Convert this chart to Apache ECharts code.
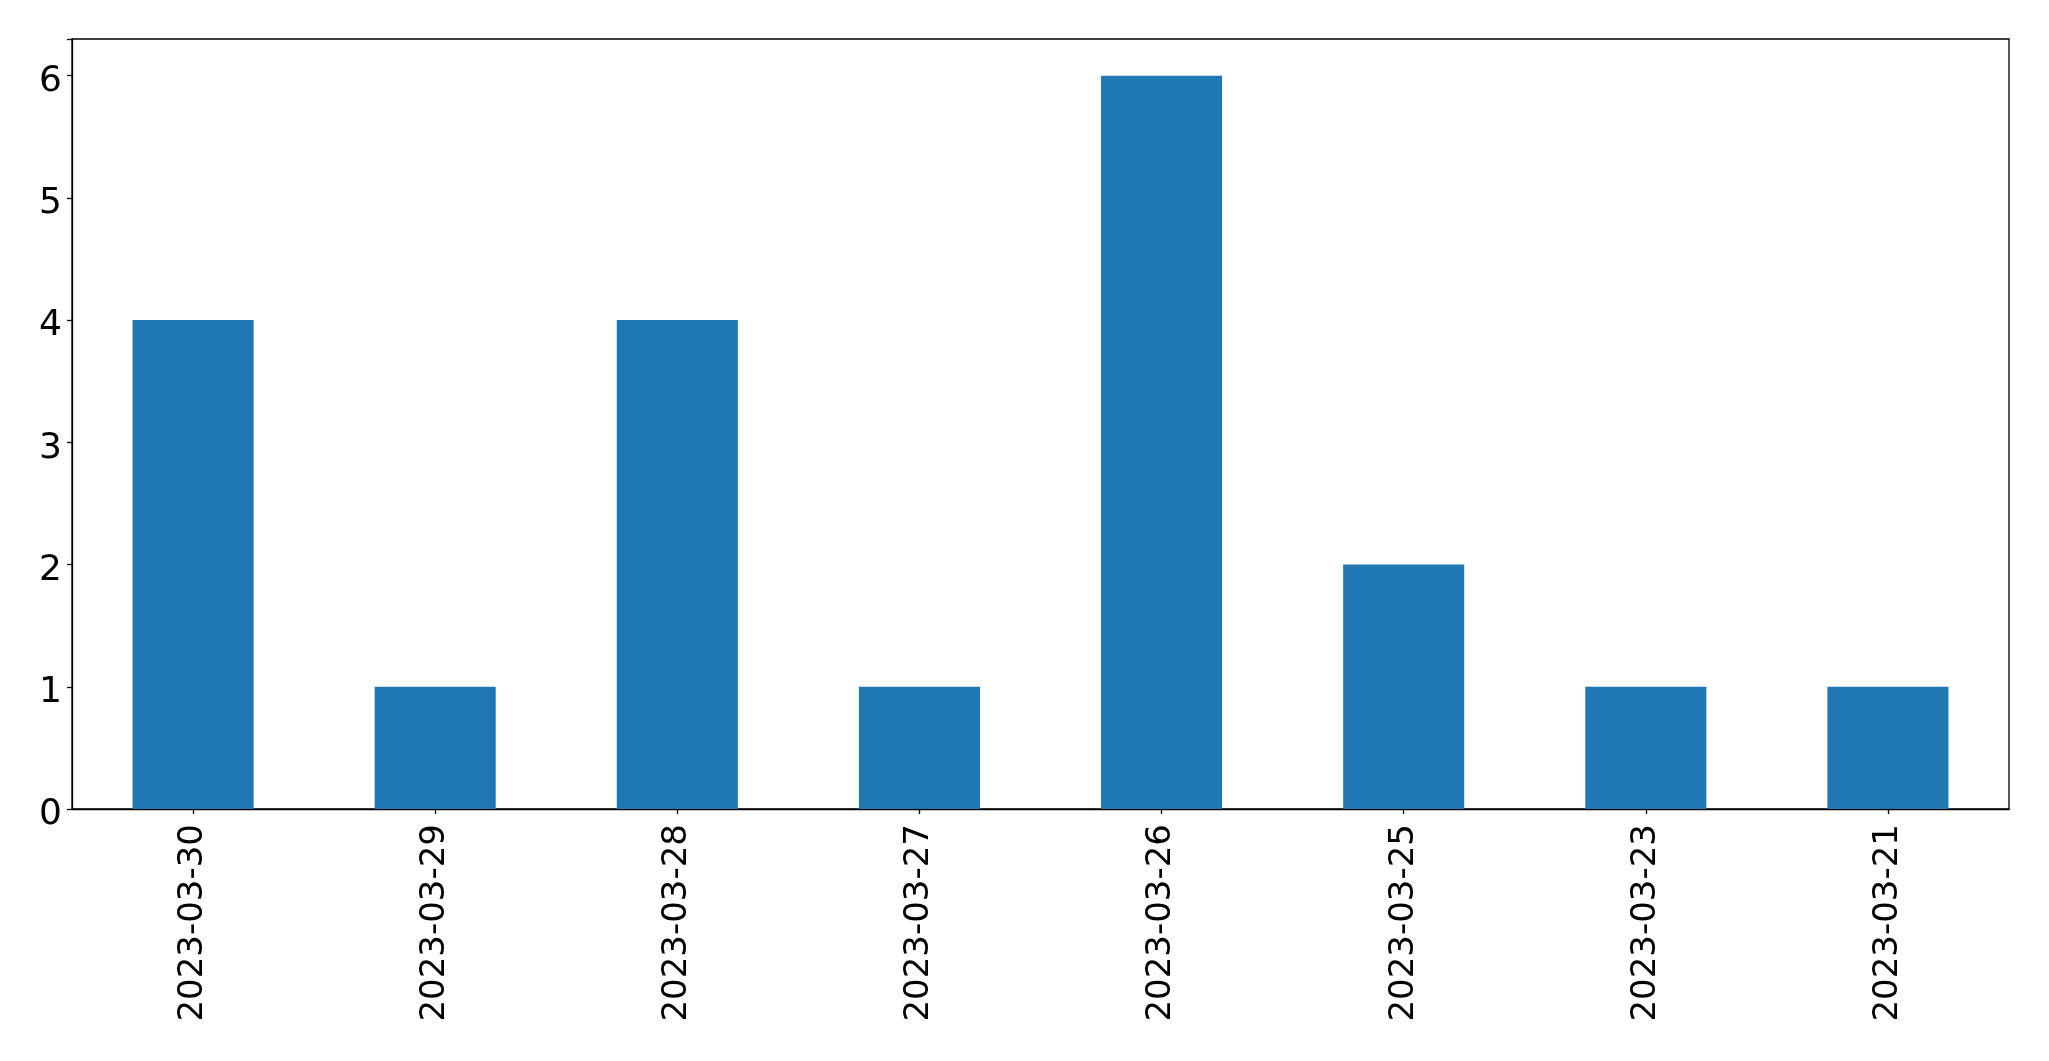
<!DOCTYPE html>
<html>
<head>
<meta charset="utf-8">
<script src="https://cdn.jsdelivr.net/npm/echarts@6/dist/echarts.min.js"></script>
<style>html,body{margin:0;padding:0;background:#fff}#c{width:2049px;height:1061px}</style>
</head>
<body>
<div id="c"></div>
<script>
const categories = ['2023-03-30','2023-03-29','2023-03-28','2023-03-27','2023-03-26','2023-03-25','2023-03-23','2023-03-21'];
const values = [4, 1, 4, 1, 6, 2, 1, 1];
const yTicks = [0, 1, 2, 3, 4, 5, 6];

const chart = echarts.init(document.getElementById('c'), null, {renderer: 'canvas'});
const font = 'DejaVu Sans';
chart.setOption({
  animation: false,
  backgroundColor: '#ffffff',
  grid: {left: 72, right: 40, top: 39, bottom: 252, show: true, borderColor: '#000', borderWidth: 1.3, backgroundColor: 'transparent'},
  xAxis: {
    type: 'category',
    data: categories,
    boundaryGap: true,
    axisLine: {show: true, lineStyle: {color: '#000', width: 1.3}},
    axisTick: {show: true, alignWithLabel: true, length: 5, lineStyle: {color: '#000', width: 1.3}},
    axisLabel: {rotate: 90, margin: 15, fontFamily: font, fontSize: 34, color: '#000', interval: 0},
    splitLine: {show: false}
  },
  yAxis: {
    type: 'value',
    min: 0,
    max: 6.3,
    interval: 1,
    axisLine: {show: true, lineStyle: {color: '#000', width: 1.3}},
    axisTick: {show: true, length: 5, lineStyle: {color: '#000', width: 1.3}},
    axisLabel: {margin: 10, fontFamily: font, fontSize: 36, color: '#000',
      formatter: v => yTicks.includes(v) ? '{a|' + v + '}' : '',
      rich: {a: {fontFamily: font, fontSize: 36, color: '#000', padding: [12, 0, 0, 0]}}},
    splitLine: {show: false}
  },
  series: [{
    type: 'bar',
    data: values,
    barWidth: '50%',
    itemStyle: {color: '#1f77b4'}
  }]
});
</script>
</body>
</html>
